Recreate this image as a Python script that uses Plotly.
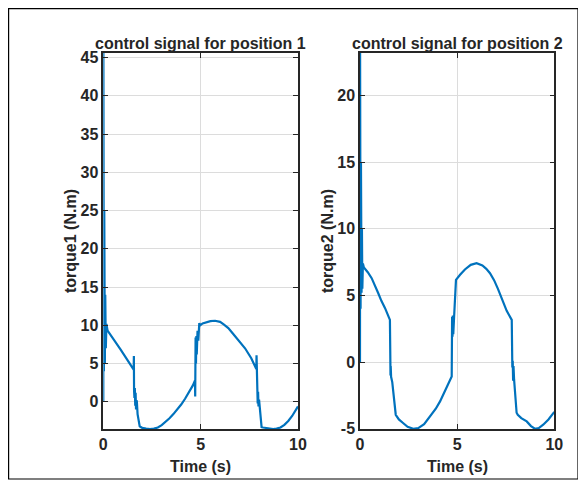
import plotly.graph_objects as go

# ---- data ----
time1 = [0, 0.005, 0.03, 0.05, 0.08, 0.10, 0.13, 0.16, 0.22, 0.9, 1.56,
         1.57, 1.58, 1.60, 1.62, 1.64, 1.66, 1.68, 1.72, 1.76, 1.87, 1.92,
         2.0, 2.2, 2.4, 2.6, 2.8, 3.0, 3.2, 3.4, 3.6, 3.8, 4.0, 4.2, 4.4, 4.6, 4.71,
         4.72, 4.74, 4.76, 4.78, 4.80, 4.84, 4.88, 4.93, 4.97,
         5.1, 5.3, 5.5, 5.74, 6.0, 6.2, 6.42, 6.6, 6.76, 7.0, 7.28, 7.6, 7.86,
         7.87, 7.89, 7.91, 7.93, 7.95, 7.97, 8.0, 8.05, 8.13, 8.2,
         8.3, 8.5, 8.73, 8.9, 9.1, 9.3, 9.5, 9.7, 9.85, 10.0]
torque1 = [0, 45.6, 4.0, 25.0, 5.0, 14.0, 7.0, 10.2, 9.3, 6.8, 4.2,
           6.0, 1.5, 0.5, 1.8, -0.5, 1.2, -1.0, 0.2, -1.6, -3.2, -3.3,
           -3.4, -3.5, -3.55, -3.5, -3.35, -3.05, -2.65, -2.15, -1.6, -1.0, -0.35, 0.4, 1.2, 2.15, 2.8,
           0.7, 8.4, 5.0, 8.6, 6.2, 9.3, 8.0, 10.3, 10.0,
           10.25, 10.4, 10.55, 10.6, 10.45, 10.1, 9.65, 9.1, 8.6, 7.9, 7.0, 5.7, 4.3,
           6.1, 1.5, 2.3, -0.2, 1.3, -0.6, 0.3, -1.5, -3.3, -3.35,
           -3.4, -3.5, -3.55, -3.5, -3.35, -3.0, -2.5, -1.85, -1.3, -0.6]

time2 = [0, 0.005, 0.03, 0.05, 0.08, 0.10, 0.12, 0.15, 0.2, 0.4, 0.6, 0.8, 0.94, 1.1, 1.29, 1.54,
         1.55, 1.57, 1.58, 1.60, 1.66, 1.84, 1.9, 2.0, 2.2, 2.45, 2.74, 3.0, 3.3, 3.6, 3.9, 4.12, 4.4, 4.72,
         4.74, 4.76, 4.78, 4.80, 4.84, 4.92, 4.94, 5.15, 5.4, 5.7, 6.0, 6.3, 6.5, 6.69, 6.9, 7.1, 7.3, 7.55, 7.81,
         7.82, 7.84, 7.86, 7.88, 7.90, 7.93, 8.06, 8.12, 8.3, 8.58, 8.8, 9.0, 9.2, 9.43, 9.7, 9.95, 10.0]
torque2 = [0, 23.2, 4.0, 15.0, 5.2, 10.0, 5.5, 7.4, 7.1, 6.75, 6.3, 5.7, 5.17, 4.6, 4.05, 3.17,
           -0.3, -1.0, -0.3, -1.1, -1.5, -3.95, -4.1, -4.3, -4.55, -4.85, -5.0, -4.95, -4.65, -4.1, -3.5, -2.95, -2.1, -1.08,
           3.4, 1.9, 3.5, 2.1, 3.3, 6.1, 6.17, 6.55, 6.95, 7.3, 7.42, 7.25, 7.0, 6.67, 6.15, 5.5, 4.75, 3.85, 3.17,
           0.2, -0.4, 0.1, -1.4, -0.3, -1.3, -3.8, -3.95, -4.2, -4.45, -4.8, -5.0, -4.95, -4.7, -4.3, -3.83, -3.75]

x_ticks = [0, 5, 10]
x_ticklabels = ["0", "5", "10"]
y1_ticks = [0, 5, 10, 15, 20, 25, 30, 35, 40, 45]
y1_ticklabels = ["0", "5", "10", "15", "20", "25", "30", "35", "40", "45"]
y2_ticks = [-5, 0, 5, 10, 15, 20]
y2_ticklabels = ["-5", "0", "5", "10", "15", "20"]

titles = ["control signal for position 1", "control signal for position 2"]
ylabels = ["torque1 (N.m)", "torque2 (N.m)"]
xlabel = "Time (s)"

# the page body adds an 8px margin; figure is sized/positioned to compensate
OFF = 8
W, H = 570, 472
LINE = "#0072BD"
FONT = dict(family="Liberation Sans, Arial, sans-serif", size=16, color="#262626", weight="bold")

fig = go.Figure()
fig.add_trace(go.Scatter(x=time1, y=torque1, mode="lines", line=dict(color=LINE, width=2.2),
                         xaxis="x", yaxis="y", showlegend=False))
fig.add_trace(go.Scatter(x=time2, y=torque2, mode="lines", line=dict(color=LINE, width=2.2),
                         xaxis="x2", yaxis="y2", showlegend=False))

# target page-pixel geometry
ax1 = (103.3, 298.0)
ax2 = (360.0, 554.3)
ytop, ybot = 53.0, 429.0

def px(x):
    return (x - OFF) / W

def py(y):
    return 1 - (y - OFF) / H

common = dict(showline=True, linecolor="#262626", linewidth=1.5, mirror="ticks",
              ticks="inside", ticklen=5, tickcolor="#262626", tickwidth=1.2,
              showgrid=True, gridcolor="#dcdcdc", gridwidth=1, zeroline=False,
              tickfont=FONT, automargin=False)

fig.update_layout(
    template="none",
    width=W, height=H,
    margin=dict(l=0, r=0, t=0, b=0, pad=0),
    paper_bgcolor="white", plot_bgcolor="white",
    xaxis=dict(domain=[px(ax1[0]), px(ax1[1])], range=[0, 10], tickvals=x_ticks,
               ticktext=x_ticklabels, anchor="y", **common),
    yaxis=dict(domain=[py(ybot), py(ytop)], range=[-3.55, 45.6], tickvals=y1_ticks,
               ticktext=y1_ticklabels, anchor="x", **common),
    xaxis2=dict(domain=[px(ax2[0]), px(ax2[1])], range=[0, 10], tickvals=x_ticks,
                ticktext=x_ticklabels, anchor="y2", **common),
    yaxis2=dict(domain=[py(ybot), py(ytop)], range=[-5.02, 23.2], tickvals=y2_ticks,
                ticktext=y2_ticklabels, anchor="x2", **common),
)

ann = []
for (a, t, yl, xc) in [(ax1, titles[0], ylabels[0], 70), (ax2, titles[1], ylabels[1], 327)]:
    cx = (a[0] + a[1]) / 2
    ann.append(dict(text=t, x=px(cx), y=py(43), xref="paper", yref="paper",
                    showarrow=False, font=FONT, xanchor="center", yanchor="middle"))
    ann.append(dict(text=xlabel, x=px(cx), y=py(466), xref="paper", yref="paper",
                    showarrow=False, font=FONT, xanchor="center", yanchor="middle"))
    ann.append(dict(text=yl, x=px(xc), y=py((ytop + ybot) / 2), xref="paper", yref="paper",
                    showarrow=False, font=FONT, textangle=-90, xanchor="center", yanchor="middle"))
fig.update_layout(annotations=ann)

fig.add_shape(type="rect", xref="paper", yref="paper",
              x0=px(8.6), x1=px(578), y0=py(479), y1=py(8.6),
              line=dict(color="#000000", width=1.2), fillcolor="rgba(0,0,0,0)", layer="below")

fig.write_html("out.html")
